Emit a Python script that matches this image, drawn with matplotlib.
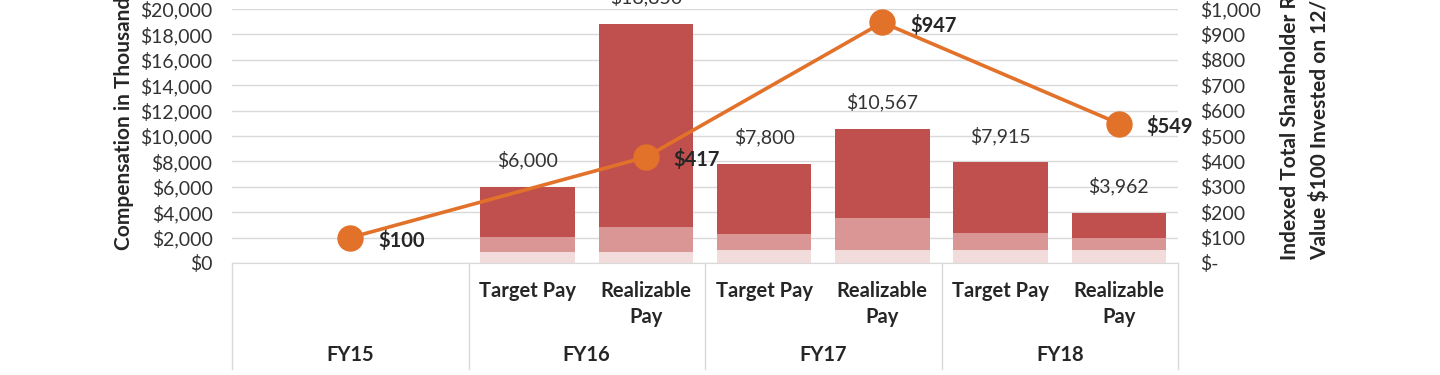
import matplotlib.pyplot as plt
import matplotlib.transforms as mtransforms
from matplotlib.ticker import FuncFormatter

plt.rcParams['font.family'] = ['Lato', 'DejaVu Sans']

# data (compensation in $ thousands)
years = ['FY15', 'FY16', 'FY17', 'FY18']
pay_labels = ['Target Pay', 'Realizable\nPay']
base_pay = [850, 850, 1000, 1000, 1000, 1000]
mid_pay = [1170, 1960, 1250, 2550, 1360, 1000]
totals = [6000, 18850, 7800, 10567, 7915, 3962]
tsr = [100, 417, 947, 549]

# slot positions: FY15 has two empty slots, each other year has target + realizable
bar_x = [2, 3, 4, 5, 6, 7]
tsr_x = [0.5, 3, 5, 7]
year_x = [0.5, 2.5, 4.5, 6.5]
sep_x = [-0.5, 1.5, 3.5, 5.5, 7.5]

dark = '#C0504D'
medium = '#D99694'
light = '#F2DCDB'
orange = '#E2712A'
grid_col = '#D9D9D9'
txt = '#333333'

top_pay = [t - b - m for t, b, m in zip(totals, base_pay, mid_pay)]
mid_bottom = base_pay
top_bottom = [b + m for b, m in zip(base_pay, mid_pay)]

fig = plt.figure(figsize=(14.4, 3.75), dpi=100)
ax = fig.add_axes([232 / 1440, 1 - 263 / 375, 946 / 1440, 254 / 375])

ax.bar(bar_x, base_pay, width=0.8, color=light, zorder=2)
ax.bar(bar_x, mid_pay, width=0.8, bottom=mid_bottom, color=medium, zorder=2)
ax.bar(bar_x, top_pay, width=0.8, bottom=top_bottom, color=dark, zorder=2)

for x, t in zip(bar_x, totals):
    ax.annotate(f'${t:,}', (x, t), xytext=(0, 19), textcoords='offset points',
                ha='center', va='center', fontsize=14, color=txt,
                annotation_clip=False)

ax.set_xlim(-0.5, 7.5)
ax.set_ylim(0, 20000)
ax.set_yticks(range(0, 20001, 2000))
ax.yaxis.set_major_formatter(FuncFormatter(lambda v, p: f'${v:,.0f}'))
ax.set_xticks([])
ax.grid(axis='y', color=grid_col, lw=1)
ax.set_axisbelow(True)
for s in ['top', 'left', 'right']:
    ax.spines[s].set_visible(False)
ax.spines['bottom'].set_color(grid_col)
ax.tick_params(axis='y', length=0, pad=14, labelsize=14, labelcolor=txt)

# category table under the plot
trans = mtransforms.blended_transform_factory(ax.transData, ax.transAxes)
for x in sep_x:
    ax.plot([x, x], [0, -106 / 254], transform=trans, clip_on=False,
            color=grid_col, lw=1)
for i, x in enumerate(bar_x):
    for j, line in enumerate(pay_labels[i % 2].split('\n')):
        ax.text(x, -(28 + 26 * j) / 254, line, transform=trans, ha='center',
                va='center', fontsize=14.5, fontweight='bold', color='#262626')
for x, y in zip(year_x, years):
    ax.text(x, -92 / 254, y, transform=trans, ha='center', va='center',
            fontsize=14.5, fontweight='bold', color='#262626')

# secondary axis: indexed TSR
ax2 = ax.twinx()
ax2.set_ylim(0, 1000)
ax2.set_yticks(range(0, 1001, 100))
ax2.yaxis.set_major_formatter(FuncFormatter(lambda v, p: '$-' if v == 0 else f'${v:,.0f}'))
for s in ax2.spines.values():
    s.set_visible(False)
ax2.tick_params(axis='y', length=0, pad=16, labelsize=14, labelcolor=txt)
ax2.plot(tsr_x, tsr, color=orange, lw=2.6, marker='o', ms=18, zorder=5, clip_on=False)
for x, v in zip(tsr_x, tsr):
    ax2.annotate(f'${v}', (x, v), xytext=(20, -2), textcoords='offset points',
                 ha='left', va='center', fontsize=14.5, fontweight='bold',
                 color='#262626', annotation_clip=False)

fig.text(124 / 1440, 1 - 250 / 375, 'Compensation in Thousands', rotation=90,
         ha='center', va='bottom', fontsize=15, fontweight='bold', color='#262626')
fig.text(1290 / 1440, 1 - 260 / 375, 'Indexed Total Shareholder Return', rotation=90,
         ha='center', va='bottom', fontsize=15, fontweight='bold', color='#262626')
fig.text(1320 / 1440, 1 - 260 / 375, 'Value $100 Invested on 12/31/14', rotation=90,
         ha='center', va='bottom', fontsize=15, fontweight='bold', color='#262626')

fig.savefig('out.png', dpi=100)
